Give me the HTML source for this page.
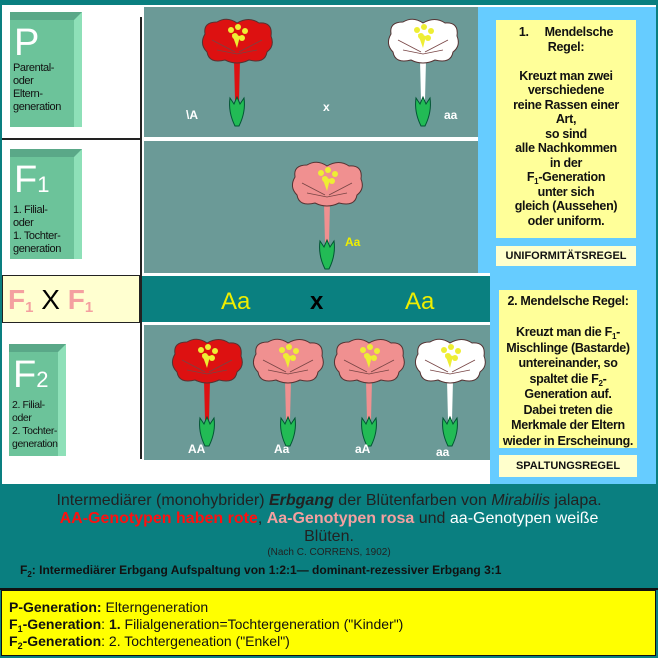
<!DOCTYPE html>
<html><head><meta charset="utf-8"><style>
body{margin:0;width:658px;height:658px;background:#0a7f80;position:relative;overflow:hidden;font-family:"Liberation Sans",sans-serif}
.a{position:absolute}
sub{vertical-align:baseline;position:relative;top:3px;line-height:0}
.gb{position:absolute;background:#6cc39a;color:#fff;border-right:8px solid #8ee0b8;border-top:8px solid #5aa888;box-sizing:border-box}
.gb .big{font-size:38px;line-height:38px;margin:4px 0 0 4px}
.gb .sm{font-size:11px;color:#111;line-height:13px;margin-left:3px;letter-spacing:-0.4px;white-space:nowrap}
.yb{position:absolute;background:#ffff99;text-align:center;font-weight:bold;font-size:12.5px;line-height:14.5px;color:#111;letter-spacing:-0.3px}
.lb{position:absolute;background:#ffffcc;text-align:center;font-weight:bold;font-size:11px;color:#111}
</style></head><body>
<div class="a" style="left:2px;top:5px;width:654px;height:479px;background:#fff"></div>
<div class="a" style="left:144px;top:7px;width:334px;height:130px;background:#6b9a97"></div>
<div class="a" style="left:144px;top:141px;width:334px;height:132px;background:#6b9a97"></div>
<div class="a" style="left:142px;top:276px;width:348px;height:46px;background:#0a8080"></div>
<div class="a" style="left:144px;top:325px;width:346px;height:135px;background:#6b9a97"></div>
<div class="a" style="left:140px;top:17px;width:2px;height:442px;background:#222"></div>
<div class="a" style="left:2px;top:138px;width:140px;height:2px;background:#222"></div>
<div class="a" style="left:2px;top:275px;width:138px;height:48px;background:#ffffd0;border:1px solid #222;box-sizing:border-box"></div>
<div class="a" style="left:8px;top:284px;font-size:28px;color:#f4a0a0;font-weight:bold">F<sub style="font-size:15px">1</sub> <span style="color:#000;font-weight:normal">X</span> F<sub style="font-size:15px">1</sub></div>
<div class="a" style="left:478px;top:7px;width:178px;height:266px;background:#66ccff"></div>
<div class="a" style="left:490px;top:273px;width:166px;height:211px;background:#66ccff"></div>
<div class="yb" style="left:496px;top:20px;width:140px;height:218px"><div style="padding-top:5px">1.&nbsp;&nbsp;&nbsp;&nbsp;&nbsp;Mendelsche<br>Regel:<br><br>Kreuzt man zwei<br>verschiedene<br>reine Rassen einer<br>Art,<br>so sind<br>alle Nachkommen<br>in der<br>F<sub style="font-size:8px">1</sub>-Generation<br>unter sich<br>gleich (Aussehen)<br>oder uniform.</div></div>
<div class="lb" style="left:496px;top:246px;width:140px;height:20px;line-height:20px">UNIFORMITÄTSREGEL</div>
<div class="yb" style="left:499px;top:290px;width:138px;height:158px;line-height:15.5px"><div style="padding-top:4px">2. Mendelsche Regel:<br><br>Kreuzt man die F<sub style="font-size:8px">1</sub>-<br>Mischlinge (Bastarde)<br>untereinander, so<br>spaltet die F<sub style="font-size:8px">2</sub>-<br>Generation auf.<br>Dabei treten die<br>Merkmale der Eltern<br>wieder in Erscheinung.</div></div>
<div class="lb" style="left:499px;top:455px;width:138px;height:22px;line-height:22px">SPALTUNGSREGEL</div>
<div class="gb" style="left:10px;top:12px;width:72px;height:115px"><div class="big">P</div><div class="sm">Parental-<br>oder<br>Eltern-<br>generation</div></div>
<div class="gb" style="left:10px;top:149px;width:72px;height:110px"><div class="big">F<span style="font-size:22px">1</span></div><div class="sm">1. Filial-<br>oder<br>1. Tochter-<br>generation</div></div>
<div class="gb" style="left:9px;top:344px;width:57px;height:112px"><div class="big">F<span style="font-size:22px">2</span></div><div class="sm" style="font-size:10.5px">2. Filial-<br>oder<br>2. Tochter-<br>generation</div></div>
<svg class="a" style="left:0;top:0" width="658" height="484">
<defs>
<g id="st"><path d="M-3,18 L3,18 L2,58 L-2,58Z"/>
<path d="M-7,56 Q-9,70 -2,84 L2,84 Q9,70 7,56 L3,62 L0,55 L-3,62Z" fill="#22bb55" stroke="#053" stroke-width="1"/></g>
<g id="co"><path d="M-32,-8 Q-34,-20 -20,-20 Q-10,-26 0,-19 Q12,-26 22,-19 Q36,-20 34,-6 Q38,4 30,10 Q28,22 12,18 Q0,24 -12,18 Q-28,22 -30,10 Q-38,2 -32,-8Z" stroke="#533" stroke-width="1"/>
<path d="M-20,8 L0,12 L20,8 M-25,-2 L-2,10 M25,-2 L2,10" stroke="#744" stroke-width="0.8" fill="none"/>
<g fill="#ee3"><circle cx="-6" cy="-12" r="3"/><circle cx="1" cy="-15" r="3"/><circle cx="8" cy="-11" r="3"/><circle cx="-2" cy="-6" r="3"/><circle cx="5" cy="-4" r="3"/><path d="M-5,-8 L0,6 L3,-6Z"/></g></g>
</defs>
<g fill="#dd1111" transform="translate(237,42)"><use href="#st"/><use href="#co"/></g>
<g fill="#ffffff" transform="translate(423,42)"><use href="#st"/><use href="#co"/></g>
<g fill="#f09090" transform="translate(327,185)"><use href="#st"/><use href="#co"/></g>
<g fill="#dd1111" transform="translate(207,362)"><use href="#st"/><use href="#co"/></g>
<g fill="#f09090" transform="translate(288,362)"><use href="#st"/><use href="#co"/></g>
<g fill="#f09090" transform="translate(369,362)"><use href="#st"/><use href="#co"/></g>
<g fill="#ffffff" transform="translate(450,362)"><use href="#st"/><use href="#co"/></g>
<g font-family="Liberation Sans" font-weight="bold" font-size="12" fill="#fff">
<text x="186" y="119">\A</text><text x="323" y="111">x</text><text x="444" y="119">aa</text>
<text x="345" y="246" fill="#ee0">Aa</text>
<text x="188" y="453">AA</text><text x="274" y="453">Aa</text><text x="355" y="453">aA</text><text x="436" y="456">aa</text>
</g>
<g font-family="Liberation Sans" font-size="24" fill="#ee0"><text x="221" y="309">Aa</text><text x="405" y="309">Aa</text></g>
<text x="310" y="309" font-family="Liberation Sans" font-weight="bold" font-size="24" fill="#000">x</text>
</svg>
<div class="a" style="left:0;top:492px;width:658px;text-align:center;font-size:16px;line-height:18px;color:#222">Intermediärer (monohybrider) <b><i>Erbgang</i></b> der Blütenfarben von <i>Mirabilis</i> jalapa.<br><b style="color:#ff1010">AA-Genotypen haben rote</b>, <b style="color:#f4a0a0">Aa-Genotypen rosa</b> und <span style="color:#fff">aa-Genotypen weiße</span><br>Blüten.</div>
<div class="a" style="left:0;top:547px;width:658px;text-align:center;font-size:10px;color:#222">(Nach C. CORRENS, 1902)</div>
<div class="a" style="left:20px;top:563px;font-size:12px;font-weight:bold;color:#111">F<sub style="font-size:8px">2</sub>: Intermediärer Erbgang Aufspaltung von 1:2:1— dominant-rezessiver Erbgang 3:1</div>
<div class="a" style="left:0;top:588px;width:658px;height:2px;background:#111"></div>
<div class="a" style="left:1px;top:590px;width:655px;height:66px;background:#ffff00;border:1px solid #111;box-sizing:border-box;padding:8px 0 0 7px;font-size:14px;line-height:17px;color:#111"><b>P-Generation:</b> Elterngeneration<br><b>F<sub style="font-size:9px">1</sub>-Generation</b>: <b>1.</b> Filialgeneration=Tochtergeneration ("Kinder")<br><b>F<sub style="font-size:9px">2</sub>-Generation</b>: 2. Tochtergeneation ("Enkel")</div>
</body></html>
